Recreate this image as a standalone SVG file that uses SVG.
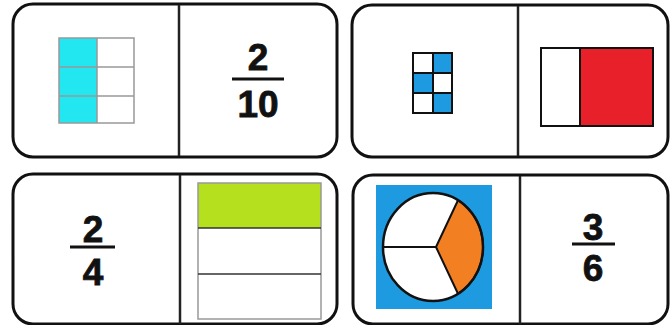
<svg xmlns="http://www.w3.org/2000/svg" width="670" height="325" viewBox="0 0 670 325">
<style>
.dom{fill:#fff;stroke:#111;stroke-width:3}
.div{stroke:#222;stroke-width:2.5}
.num{font-family:"Liberation Sans",Arial,sans-serif;font-weight:bold;font-size:37px;fill:#111;stroke:#111;stroke-width:0.8;text-anchor:middle}
.bar{stroke:#111;stroke-width:3}
.gl{stroke:#999;stroke-width:1.5;fill:none}
.bl{stroke:#111;stroke-width:2;fill:none}
</style>
<rect width="670" height="325" fill="#fff"/>
<g id="domino1">
<rect class="dom" x="13" y="4" width="324" height="153" rx="20"/>
<line class="div" x1="179" y1="5" x2="179" y2="156"/>
<rect x="59" y="38" width="38" height="85" fill="#22E6F0"/>
<rect class="gl" x="59" y="38" width="75" height="85"/>
<line class="gl" x1="97" y1="38" x2="97" y2="123"/>
<line class="gl" x1="59" y1="67" x2="134" y2="67"/>
<line class="gl" x1="59" y1="96" x2="134" y2="96"/>
<text class="num" x="258" y="70">2</text>
<line class="bar" x1="232" y1="79" x2="284" y2="79"/>
<text class="num" x="258" y="117">10</text>
</g>
<g id="domino2">
<rect class="dom" x="352" y="5" width="316" height="152" rx="20"/>
<line class="div" x1="518" y1="6" x2="518" y2="156"/>
<rect x="433" y="53" width="19" height="20" fill="#1E9BE0"/>
<rect x="413" y="73" width="20" height="20" fill="#1E9BE0"/>
<rect x="433" y="93" width="19" height="20" fill="#1E9BE0"/>
<rect class="bl" x="413" y="53" width="39" height="60"/>
<line class="bl" x1="433" y1="53" x2="433" y2="113"/>
<line class="bl" x1="413" y1="73" x2="452" y2="73"/>
<line class="bl" x1="413" y1="93" x2="452" y2="93"/>
<rect x="580" y="48" width="73" height="78" fill="#E8202A"/>
<rect class="bl" x="541" y="48" width="112" height="78"/>
<line class="bl" x1="580" y1="48" x2="580" y2="126"/>
</g>
<g id="domino3">
<rect class="dom" x="13" y="174" width="324" height="150" rx="20"/>
<line class="div" x1="180" y1="175" x2="180" y2="324"/>
<text class="num" x="93" y="242">2</text>
<line class="bar" x1="70" y1="247" x2="115" y2="247"/>
<text class="num" x="93" y="285">4</text>
<rect x="198" y="183" width="123" height="45" fill="#B5E01E"/>
<rect class="gl" x="198" y="183" width="123" height="136" stroke="#777"/>
<line x1="198" y1="228" x2="321" y2="228" stroke="#333" stroke-width="1.5"/>
<line x1="198" y1="274" x2="321" y2="274" stroke="#333" stroke-width="1.5"/>
</g>
<g id="domino4">
<rect class="dom" x="353" y="175" width="315" height="149" rx="20"/>
<line class="div" x1="520" y1="176" x2="520" y2="324"/>
<rect x="376" y="185" width="116" height="124" fill="#1E9BE0"/>
<ellipse cx="433" cy="247" rx="50" ry="54" fill="#fff"/>
<path d="M436,247 L458,200.2 A50,54 0 0 1 458,293.8 Z" fill="#F28022" stroke="#111" stroke-width="2" stroke-linejoin="round"/>
<ellipse cx="433" cy="247" rx="50" ry="54" fill="none" stroke="#111" stroke-width="2.5"/>
<line class="bl" x1="383" y1="247" x2="436" y2="247"/>
<text class="num" x="593" y="240">3</text>
<line class="bar" x1="572" y1="244" x2="615" y2="244"/>
<text class="num" x="593" y="281">6</text>
</g>
</svg>
